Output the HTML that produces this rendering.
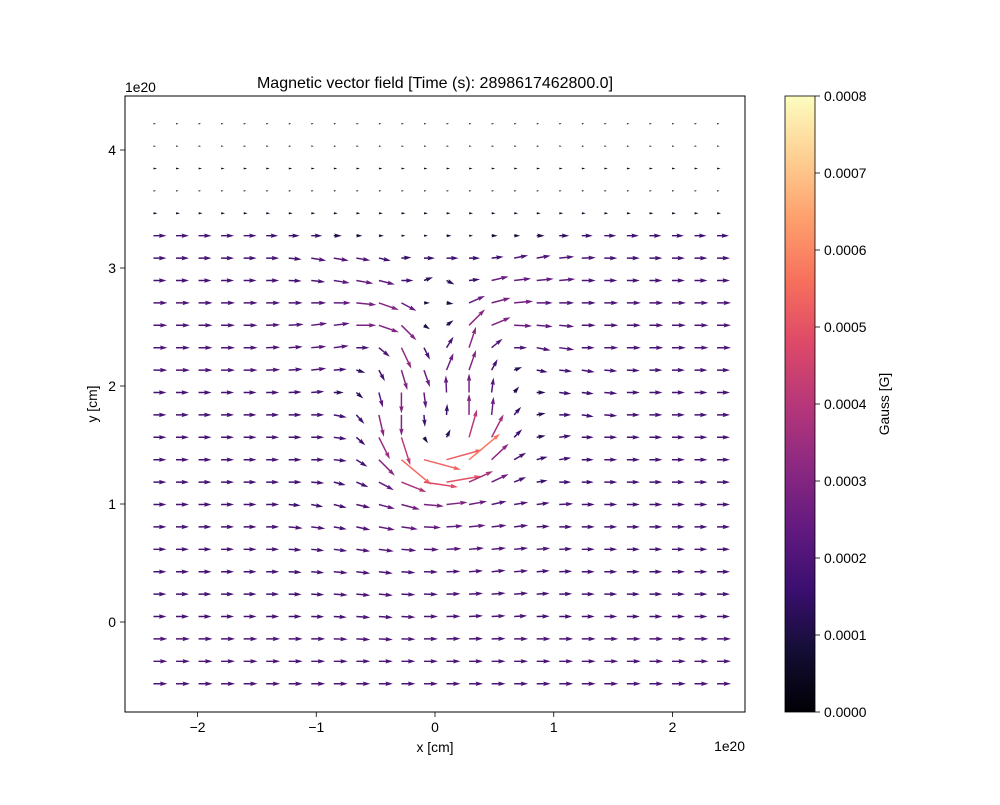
<!DOCTYPE html>
<html><head><meta charset="utf-8"><style>
html,body{margin:0;padding:0;background:#fff;}
svg text{font-family:"Liberation Sans","DejaVu Sans",sans-serif;fill:#000;}
</style></head><body>
<svg id="chart" width="1000" height="800" viewBox="0 0 1000 800" xmlns="http://www.w3.org/2000/svg">
<defs>
<linearGradient id="magma" x1="0" y1="1" x2="0" y2="0">
<stop offset="0" stop-color="#000004"/><stop offset="0.1" stop-color="#140e36"/><stop offset="0.2" stop-color="#3b0f70"/><stop offset="0.3" stop-color="#641a80"/><stop offset="0.4" stop-color="#8c2981"/><stop offset="0.5" stop-color="#b73779"/><stop offset="0.6" stop-color="#de4968"/><stop offset="0.7" stop-color="#f7705c"/><stop offset="0.8" stop-color="#fe9f6d"/><stop offset="0.9" stop-color="#fecf92"/><stop offset="1" stop-color="#fcfdbf"/>
</linearGradient>
</defs>
<text x="435" y="88" font-size="16" text-anchor="middle">Magnetic vector field [Time (s): 2898617462800.0]</text>
<g id="arrows"></g>
<rect x="125" y="96" width="620" height="616" fill="none" stroke="#000" stroke-width="1"/>
<g id="xticks"></g>
<g id="yticks"></g>
<text x="435" y="752" font-size="13.9" text-anchor="middle">x [cm]</text>
<text transform="translate(97,404) rotate(-90)" font-size="13.9" text-anchor="middle">y [cm]</text>
<text x="745" y="751" font-size="13.9" text-anchor="end">1e20</text>
<text x="125" y="92" font-size="13.9">1e20</text>
<rect x="785" y="96" width="30" height="616" fill="url(#magma)" stroke="#000" stroke-width="0.8"/>
<g id="cticks"></g>
<text transform="translate(889,404) rotate(-90)" font-size="13.9" text-anchor="middle">Gauss [G]</text>
</svg>
<script>
// grid (units of 1e20 cm)
const xStart = -2.371, xEnd = 2.375, nCols = 26;
const yStart = 4.223, yEnd = -0.523, nRows = 26;
const UNIT_G = 1.4e-5; // Gauss per array unit
// Bx per row (top to bottom), in UNIT_G
const U = [
[2.5,2.5,2.5,2.5,2.5,2.5,2.5,2.5,2.5,2.5,2.5,2.5,2.5,2.5,2.5,2.5,2.5,2.5,2.5,2.5,2.5,2.5,2.5,2.5,2.5,2.5],
[2.5,2.5,2.5,2.5,2.5,2.5,2.5,2.5,2.5,2.5,2.5,2.5,2.5,2.5,2.5,2.5,2.5,2.5,2.5,2.5,2.5,2.5,2.5,2.5,2.5,2.5],
[3.5,3.5,3.5,3.5,3.5,3.5,3.5,3.5,3.5,3.5,3.5,3.5,3.5,3.5,3.5,3.5,3.5,3.5,3.5,3.5,3.5,3.5,3.5,3.5,3.5,3.5],
[2.5,2.5,2.5,2.5,2.5,2.5,2.5,2.5,2.5,2.5,2.5,2.5,2.5,2.5,2.5,2.5,2.5,2.5,2.5,2.5,2.5,2.5,2.5,2.5,2.5,2.5],
[4,4,4,4,4,4,4,4,4,4,4,4,4,4,4,4,4,4,4,4,4,4,4,4,4,4],
[13,13,13,13,13,12,11,11,8,6,5,4,4,5,4,6,6,8,10,11,12,12,12,12,12,12],
[13,13,13,13,13,13,13,15,15,14,12,10,11,12,11,12,14,14,15,14,13,13,13,13,13,13],
[13,13,13,13,13,13,13,14,16,17,16,12,9,8,11,17,17,17,16,14,13,13,13,13,13,13],
[14,14,14,14,14,14,14,15,17,20,20,15,6,7,16,19,19,16,15,14,14,14,14,14,14,14],
[14,14,14,14,14,14,15,16,16,20,20,15,6,7,16,19,18,16,15,14,14,14,14,14,14,14],
[14,14,14,14,14,14,14,15,15,13,11,10,6,7,7,11,13,14,15,13,14,14,14,14,14,14],
[14,14,14,14,14,14,14,15,13,9,6,6,6,7,7,6,8,11,13,13,13,13,13,13,13,13],
[13,13,13,13,13,13,13,13,10,7,4,0,2,-0.7,0,2,5,9,12,12,13,13,13,13,13,13],
[13,13,13,13,13,13,13,13,13,8,5,0,1,0.7,0,2,7,9,12,12,13,13,13,13,13,13],
[13,13,13,13,13,13,13,13,13,9,11,9,4,4,8,12,8,9,12,12,13,13,13,13,13,13],
[13,13,13,13,13,13,13,13,13,11,16,30,37,36,31,17,12,11,12,12,13,13,13,13,13,13],
[13,13,13,13,13,13,13,13,12,12,15,25,34,35,24,17,12,11,12,12,13,13,13,13,13,13],
[13,13,13,13,13,13,12,12,13,14,16,18.5,20,21,18,15,14,13,14,13,13,13,13,13,13,13],
[13,13,13,13,13,13,14,14,13,14,16,16.5,17,16.5,16.5,15,14,13,13,13,13,13,13,13,13,13],
[13,13,13,13,13,13,13,13,13.5,14,15,15,15,15,15,14.5,14,13.5,13,13,13,13,13,13,13,13],
[13,13,13,13,13,13,13,13,14,14,14,14,14,14,14,14,14,13,13,13,13,13,13,13,13,13],
[13,13,13,13,13,13,13,13,14,14,14,14,14,14,14,14,14,13,13,13,13,13,13,13,13,13],
[13,13,13,13,13,13,13,13,13,14,14,14,14,14,14,14,13,13,13,13,13,13,13,13,13,13],
[14,14,14,14,14,14,14,14,14,14,14,14,14,14,14,14,14,14,14,14,14,14,14,14,14,14],
[14,14,14,14,14,14,14,14,14,14,14,14,14,14,14,14,14,14,14,14,14,14,14,14,14,14],
[14,14,14,14,14,14,14,14,14,14,14,14,14,14,14,14,14,14,14,14,14,14,14,14,14,14]
];
// By per row (top to bottom), up positive, in UNIT_G
const V = [
[0,0,0,0,0,0,0,0,0,0,0,0,0,0,0,0,0,0,0,0,0,0,0,0,0,0],
[0,0,0,0,0,0,0,0,0,0,0,0,0,0,0,0,0,0,0,0,0,0,0,0,0,0],
[0,0,0,0,0,0,0,0,0,0,0,0,0,0,0,0,0,0,0,0,0,0,0,0,0,0],
[0,0,0,0,0,0,0,0,0,0,0,0,0,0,0,0,0,0,0,0,0,0,0,0,0,0],
[0,0,0,0,0,0,0,0,0,0,0,0,0,0,0,0,0,0,0,0,0,0,0,0,0,0],
[0,0,0,0,0,0,0,0,0,0,0,0,0,0,0,0,0,0,0,0,0,0,0,0,0,0],
[0,0,0,0,0,0,-1.3,-2.5,-2.5,-2.3,-2.7,0.7,0,0,0,1.3,2.7,2.5,1.5,0.5,0,0,0,0,0,0],
[0,0,0,0,0,0,-0.5,-1.5,-2.5,-3,-4,0,3.3,-4,1.3,4,2,1.7,1.5,0,0,0,0,0,0,0],
[0,0,0,0,0,0,0,0,0,-2,-7,-8,0,-1,7,5,1.7,0,0,0,0,0,0,0,0,0],
[0,0,0,0,0,0.5,1,2,2,0,-7,-15,-4,5,16,8,-0.7,-1.3,-1.3,0,0,0,0,0,0,0],
[0,0,0,0,0,0.5,1,1.3,2,0,-9,-21,-12,11,21,9,0,-2.7,-2,0,0,0,0,0,0,0],
[0,0,0,0,0,0.5,1,1.7,1,-2.7,-11,-20,-17,17,20,11,3,-2,-1.3,-2,-1,-0.5,0,0,0,0],
[0,0,0,0,0,0,0.5,1,0,-6,-15,-21,-16,17,19,15,6,0,-1.3,-1.3,-1,0,0,0,0,0],
[0,0,0,0,0,0,0,0,-2.5,-9,-22,-21,-12,11,21,18,8,1.7,0,-1.7,-1,0,0,0,0,0],
[0,0,0,0,0,0,0,0,-1.7,-8,-22,-28,-6,8,28,23,8,1.7,1.7,0,0,0,0,0,0,0],
[0,0,0,0,0,0,0,0,-1.3,-7,-16,-25,-10,10,26,16,7,3,2,0,0,0,0,0,0,0],
[0,0,0,0,0,0,0,-1,-3,-5,-8,-10,-5,6,11,8,5,1.7,0,0,0,0,0,0,0,0],
[0,0,0,0,0,0,-1,-2.3,-3.3,-3.3,-4.3,-5,-1.7,2.3,3.3,3.3,2.3,1.7,0.7,0,0,0,0,0,0,0],
[0,0,0,0,0,0,-1.3,-1.7,-2.3,-3,-3,-2.3,-0.7,1,1.7,1.7,1.7,0.7,0,0,0,0,0,0,0,0],
[0,0,0,0,0,0,-0.7,-1.3,-1.7,-2,-2,-1.3,-0.3,0.7,1.3,1.3,1.3,1,0.5,0,0,0,0,0,0,0],
[0,0,0,0,0,0,-0.7,-1,-1.3,-1.7,-1.7,-1,-0.3,0.3,1,1.3,1,1,0.5,0,0,0,0,0,0,0],
[0,0,0,0,0,0,-0.3,-0.7,-1,-1.3,-1.3,-0.7,-0.3,0.3,0.7,1,1,0.7,0.3,0,0,0,0,0,0,0],
[0,0,0,0,0,0,0,-0.3,-0.7,-1,-1,-0.7,0,0.3,0.7,0.7,0.7,0.3,0,0,0,0,0,0,0,0],
[0,0,0,0,0,0,0,0,-0.3,-0.7,-0.7,-0.3,0,0.3,0.3,0.3,0,0,0,0,0,0,0,0,0,0],
[0,0,0,0,0,0,0,0,0,0,0,0,0,0,0,0,0,0,0,0,0,0,0,0,0,0],
[0,0,0,0,0,0,0,0,0,0,0,0,0,0,0,0,0,0,0,0,0,0,0,0,0,0]
];
const xTickVals = [-2,-1,0,1,2];
const xTickLabels = ["\u22122","\u22121","0","1","2"];
const yTickVals = [0,1,2,3,4];
const yTickLabels = ["0","1","2","3","4"];
const cTickVals = [0,0.0001,0.0002,0.0003,0.0004,0.0005,0.0006,0.0007,0.0008];
const cTickLabels = ["0.0000","0.0001","0.0002","0.0003","0.0004","0.0005","0.0006","0.0007","0.0008"];

const NS = "http://www.w3.org/2000/svg";
const xScale = v => 435 + v * 118.75;
const yScale = v => 622 - v * 118;
const cMin = 0, cMax = 0.0008;
const cScale = v => 712 - (v - cMin) / (cMax - cMin) * 616;
const PX_PER_UNIT = 1;
const magmaStops = [[0,0,0,4],[0.1,20,14,54],[0.2,59,15,112],[0.3,100,26,128],[0.4,140,41,129],[0.5,183,55,121],[0.6,222,73,104],[0.7,247,112,92],[0.8,254,159,109],[0.9,254,207,146],[1,252,253,191]];
function magma(t){
  t=Math.max(0,Math.min(1,t));
  for(let i=1;i<magmaStops.length;i++){
    const a=magmaStops[i-1],b=magmaStops[i];
    if(t<=b[0]){const f=(t-a[0])/(b[0]-a[0]);
      return `rgb(${Math.round(a[1]+f*(b[1]-a[1]))},${Math.round(a[2]+f*(b[2]-a[2]))},${Math.round(a[3]+f*(b[3]-a[3]))})`;}
  }
  return "rgb(252,253,191)";
}
const arrowsG = document.getElementById('arrows');
const W = 1.49, HL = 5*W, HAL = 4.5*W, HW = 1.5*W;
for(let j=0;j<nRows;j++){
  const yd = yStart + (yEnd-yStart)*j/(nRows-1);
  for(let i=0;i<nCols;i++){
    const xd = xStart + (xEnd-xStart)*i/(nCols-1);
    const u=U[j][i], v=V[j][i];
    const L=Math.hypot(u,v)*PX_PER_UNIT;
    const ang=Math.atan2(-v,u)*180/Math.PI;
    let pts;
    if(L>=HL){
      pts=[[0,-W/2],[L-HAL,-W/2],[L-HL,-HW],[L,0],[L-HL,HW],[L-HAL,W/2],[0,W/2]];
    } else {
      const s=L/HL, l=HL;
      pts=[[0,-W/2],[l-HAL,-W/2],[l-HL,-HW],[l,0],[l-HL,HW],[l-HAL,W/2],[0,W/2]].map(p=>[p[0]*s,p[1]*s]);
    }
    const p=document.createElementNS(NS,'polygon');
    p.setAttribute('points',pts.map(q=>q[0].toFixed(2)+','+q[1].toFixed(2)).join(' '));
    p.setAttribute('transform',`translate(${xScale(xd).toFixed(2)},${yScale(yd).toFixed(2)}) rotate(${ang.toFixed(2)})`);
    p.setAttribute('fill',magma(Math.hypot(u,v)*UNIT_G/cMax));
    
    
    arrowsG.appendChild(p);
  }
}
function line(g,x1,y1,x2,y2){const l=document.createElementNS(NS,'line');l.setAttribute('x1',x1);l.setAttribute('y1',y1);l.setAttribute('x2',x2);l.setAttribute('y2',y2);l.setAttribute('stroke','#000');l.setAttribute('stroke-width','0.8');g.appendChild(l);return l;}
function txt(g,x,y,s,anchor){const t=document.createElementNS(NS,'text');t.setAttribute('x',x);t.setAttribute('y',y);t.setAttribute('font-size','13.9');t.setAttribute('text-anchor',anchor);t.textContent=s;g.appendChild(t);return t;}
const xg=document.getElementById('xticks');
xTickVals.forEach((v,k)=>{const x=xScale(v);
  const l=line(xg,x,712,x,717);
  
  
  const t=txt(xg,x,732,xTickLabels[k],'middle');
  
  
});
const yg=document.getElementById('yticks');
yTickVals.forEach((v,k)=>{const y=yScale(v);
  const l=line(yg,120,y,125,y);
  
  
  const t=txt(yg,116,y+5,yTickLabels[k],'end');
  
  
});
const cg=document.getElementById('cticks');
cTickVals.forEach((v,k)=>{const y=cScale(v);
  const l=line(cg,815,y,820,y);
  
  
  const t=txt(cg,824,y+5,cTickLabels[k],'start');
  
  
});
</script>
</body></html>
